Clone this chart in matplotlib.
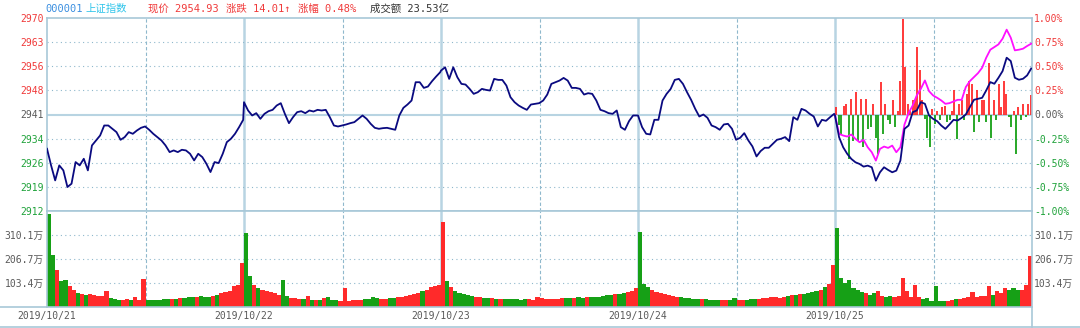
import matplotlib
matplotlib.use('Agg')
import matplotlib.pyplot as plt
from matplotlib.lines import Line2D
import numpy as np

plt.rcParams['font.family'] = ['DejaVu Sans Mono', 'Noto Sans CJK SC']

# ---- data ----
code = '000001'
name = '上证指数'
prev_close = 2940.92
last_price = 2954.93
change = 14.01
change_pct = 0.48
turnover = '23.53亿'
dates = ['2019/10/21', '2019/10/22', '2019/10/23', '2019/10/24', '2019/10/25']

# index, one point every 5 minutes (49 per day)
price_d1 = [2930.48, 2925.41, 2920.84, 2925.41, 2923.89, 2918.82, 2919.83, 2926.42, 2925.41, 2927.43,
            2923.89, 2931.49, 2933.01, 2934.53, 2937.57, 2937.57, 2936.56, 2935.55, 2933.21, 2934.02,
            2935.55, 2935.04, 2936.05, 2936.86, 2937.27, 2936.26, 2935.04, 2934.02, 2933.01, 2931.49,
            2929.46, 2929.97, 2929.46, 2930.17, 2929.97, 2928.95, 2926.93, 2928.95, 2927.94, 2925.91,
            2923.38, 2926.42, 2926.11, 2928.95, 2932.50, 2933.52, 2935.04, 2937.07, 2939.30]
price_d2 = [2944.67, 2942.14, 2940.62, 2941.33, 2939.60, 2941.12, 2941.93, 2942.34, 2943.66, 2944.37,
            2941.12, 2938.28, 2940.11, 2941.63, 2941.93, 2941.33, 2942.14, 2941.83, 2942.34, 2942.14,
            2942.34, 2940.11, 2937.57, 2937.27, 2937.57, 2937.88, 2938.28, 2938.59, 2939.60, 2940.62,
            2939.60, 2938.08, 2936.86, 2936.56, 2936.76, 2936.86, 2936.56, 2936.26, 2940.62, 2942.95,
            2943.96, 2945.18, 2950.76, 2950.76, 2949.03, 2949.44, 2951.06, 2952.48, 2953.80]
price_d3 = [2954.30, 2955.32, 2951.77, 2955.32, 2952.28, 2950.25, 2950.05, 2948.73, 2947.21, 2947.71,
            2948.73, 2948.42, 2948.22, 2951.77, 2951.47, 2951.47, 2949.74, 2946.19, 2944.67, 2943.66,
            2942.95, 2942.34, 2943.96, 2944.16, 2944.37, 2945.18, 2947.00, 2950.25, 2950.76, 2951.26,
            2952.07, 2951.26, 2949.03, 2949.03, 2948.73, 2947.00, 2947.41, 2947.21, 2945.18, 2942.34,
            2941.93, 2941.33, 2941.12, 2942.14, 2937.07, 2936.26, 2938.89, 2940.62, 2940.62]
price_d4 = [2940.62, 2937.07, 2935.04, 2934.84, 2939.30, 2939.30, 2945.18, 2947.21, 2948.73, 2951.47,
            2951.77, 2950.25, 2947.71, 2945.38, 2942.64, 2940.31, 2940.92, 2939.91, 2937.57, 2937.07,
            2936.26, 2937.88, 2938.08, 2936.56, 2933.21, 2933.82, 2935.24, 2933.01, 2931.19, 2928.14,
            2929.77, 2930.78, 2930.78, 2932.00, 2933.21, 2933.52, 2934.03, 2932.81, 2940.11, 2939.30,
            2942.64, 2942.14, 2941.12, 2940.31, 2937.27, 2939.30, 2938.99, 2940.11, 2941.12]
price_d5 = [2940.61, 2934.00, 2930.94, 2928.91, 2927.38, 2926.36, 2925.85, 2925.04, 2925.34, 2924.84,
            2920.76, 2923.31, 2924.84, 2924.02, 2923.31, 2923.82, 2926.87, 2936.54, 2937.56, 2941.63,
            2942.14, 2944.69, 2944.18, 2940.61, 2939.60, 2938.88, 2937.56, 2936.54, 2937.87, 2939.29,
            2939.09, 2939.90, 2940.92, 2943.16, 2945.40, 2945.70, 2946.01, 2948.25, 2950.79, 2950.29,
            2952.12, 2954.15, 2958.23, 2957.21, 2952.12, 2951.51, 2951.81, 2952.83, 2954.93]
# magenta line on the last day
lead_d5 = [2940.61, 2935.02, 2934.51, 2934.20, 2934.81, 2933.49, 2932.47, 2933.18, 2930.94, 2929.42,
           2926.87, 2930.43, 2931.15, 2930.74, 2931.45, 2929.42, 2930.94, 2937.87, 2941.33, 2943.67,
           2946.72, 2948.76, 2951.30, 2948.05, 2946.72, 2946.01, 2945.20, 2944.18, 2944.38, 2944.89,
           2945.40, 2945.40, 2949.27, 2951.10, 2952.32, 2953.54, 2955.17, 2958.23, 2960.67, 2961.48,
           2962.30, 2964.03, 2966.78, 2964.34, 2960.47, 2960.67, 2960.97, 2961.79, 2962.50]
# red/green strength bars on the last day, every 3 minutes, in %
power_d5 = [0.08, -0.11, -0.20, 0.09, 0.11, -0.46, 0.16, -0.27, 0.23, -0.27,
            0.16, -0.34, 0.16, -0.15, -0.13, 0.11, -0.24, -0.41, 0.34, -0.20,
            0.11, -0.06, -0.10, 0.15, -0.13, 0.04, 0.35, 0.99, 0.49, 0.11,
            0.04, 0.15, 0.15, 0.70, 0.46, 0.15, -0.05, -0.24, -0.34, 0.06,
            -0.10, 0.04, -0.06, 0.08, 0.09, -0.08, -0.06, 0.04, 0.25, -0.25,
            0.11, 0.15, -0.06, 0.21, 0.35, 0.32, -0.18, 0.25, -0.08, 0.15,
            0.15, -0.08, 0.53, -0.24, 0.15, -0.06, 0.32, 0.08, 0.35, 0.21,
            -0.03, -0.13, 0.04, -0.41, 0.08, -0.06, 0.11, -0.03, 0.11, 0.20]

# volume (万), 5-minute bins, 48 per day
vol_d1 = [400, 225, 161, 111, 118, 89, 75, 60, 57, 53, 57, 53, 46, 49, 67, 39, 34, 32, 32, 34, 32, 43, 32, 121,
          32, 29, 32, 32, 34, 34, 34, 34, 37, 39, 43, 43, 43, 46, 43, 43, 46, 53, 60, 63, 67, 89, 96, 190]
vol_d2 = [319, 132, 96, 82, 75, 67, 63, 60, 53, 118, 46, 39, 39, 34, 34, 46, 32, 32, 29, 39, 43, 32, 32, 24,
          82, 24, 32, 32, 32, 34, 34, 43, 39, 34, 34, 37, 39, 43, 43, 46, 53, 57, 60, 67, 75, 85, 90, 95]
vol_d3 = [367, 110, 85, 70, 60, 55, 50, 47, 45, 43, 40, 40, 38, 36, 36, 35, 34, 33, 33, 32, 35, 33, 32, 45,
          40, 33, 34, 35, 36, 37, 38, 38, 40, 42, 40, 42, 44, 45, 45, 48, 50, 50, 55, 55, 60, 65, 70, 80]
vol_d4 = [324, 100, 85, 75, 65, 60, 55, 50, 48, 45, 42, 40, 38, 36, 35, 35, 33, 32, 30, 30, 32, 30, 28, 40,
          30, 30, 32, 33, 35, 36, 38, 40, 45, 42, 40, 45, 48, 50, 52, 55, 58, 60, 65, 70, 75, 85, 100, 182]
vol_d5 = [340, 125, 103, 115, 82, 72, 63, 60, 53, 60, 67, 46, 42, 46, 43, 49, 125, 67, 43, 96, 43, 34, 37, 24,
          89, 24, 24, 27, 32, 34, 34, 39, 43, 63, 43, 46, 49, 89, 53, 67, 60, 82, 75, 82, 75, 75, 96, 218]
vol_ticks = [103.4, 206.7, 310.1]

prices = [price_d1, price_d2, price_d3, price_d4, price_d5]
vols = [vol_d1, vol_d2, vol_d3, vol_d4, vol_d5]

# ---- style ----
W, H = 1080, 328
RED, GREEN, GRAY = '#f03a3a', '#1fa23a', '#5a5a5a'
BAR_R, BAR_G = '#ff2a2a', '#16a016'
FRAME = '#a8c8d8'
GRID = '#8fb8cc'


def box(x0, y0, x1, y1):
    return [x0 / W, 1 - y1 / H, (x1 - x0) / W, (y1 - y0) / H]


fig = plt.figure(figsize=(W / 100, H / 100), dpi=100)
ax = fig.add_axes(box(47, 18, 1032, 211))
axv = fig.add_axes(box(47, 211, 1032, 307))

ndays = len(prices)
for a in (ax, axv):
    a.set_xlim(0, 240 * ndays)
    a.set_xticks([])
    for s in a.spines.values():
        s.set_color(FRAME)
        s.set_linewidth(1.2)
    for d in range(1, ndays):
        a.axvline(240 * d, color='#b8d4e2', lw=1.8, zorder=1)
    for d in range(ndays):
        a.axvline(240 * d + 120, color=GRID, lw=0.8, ls=(0, (3, 2)), zorder=1)

# ---- price panel ----
lo, hi = prev_close * 0.99, prev_close * 1.01
ax.set_ylim(lo, hi)
steps = np.arange(-4, 5)
pticks = prev_close * (1 + steps * 0.0025)
ax.set_yticks(pticks)
ax.set_yticklabels(['%d' % round(t) for t in pticks])
pcols = [GREEN if s < 0 else (RED if s > 0 else GRAY) for s in steps]
for lab, c in zip(ax.get_yticklabels(), pcols):
    lab.set_color(c)
ax.tick_params(axis='y', length=0, pad=2.5, labelsize=7)
for s, t in zip(steps[1:-1], pticks[1:-1]):
    if s == 0:
        ax.axhline(t, color='#b8d4e2', lw=1.5, zorder=1)
    else:
        ax.axhline(t, color=GRID, lw=0.8, ls=(0, (1, 3)), zorder=1)

axr = ax.twinx()
axr.set_ylim(lo, hi)
axr.set_yticks(pticks)
axr.set_yticklabels(['%.2f%%' % (s * 0.25) for s in steps])
for lab, c in zip(axr.get_yticklabels(), pcols):
    lab.set_color(c)
axr.tick_params(axis='y', length=0, pad=1.5, labelsize=7)
for s in axr.spines.values():
    s.set_visible(False)

# strength bars (last day)
px = 240 * (ndays - 1) + 3 * np.arange(len(power_d5)) + 1.5
pv = np.array(power_d5)
ax.vlines(px, prev_close, prev_close * (1 + pv / 100),
          colors=[BAR_R if v > 0 else BAR_G for v in pv], lw=1.3, zorder=2)

# index line
xs, ys = [], []
for d, p in enumerate(prices):
    xs.extend(240 * d + np.linspace(0, 239, len(p)))
    ys.extend(p)
ax.plot(xs, ys, color='#0a0a80', lw=1.3, zorder=4)
ax.plot(240 * (ndays - 1) + np.linspace(0, 239, len(lead_d5)), lead_d5,
        color='#ff10ff', lw=1.3, zorder=3)

# ---- volume panel ----
vtop = vol_ticks[-1] * 4 / 3
axv.set_ylim(0, vtop)
axv.set_yticks(vol_ticks)
axv.set_yticklabels(['%.1f万' % v for v in vol_ticks])
axv.tick_params(axis='y', length=0, pad=2.5, labelsize=7, labelcolor=GRAY)
for v in vol_ticks:
    axv.axhline(v, color=GRID, lw=0.8, ls=(0, (1, 3)), zorder=1)
axvr = axv.twinx()
axvr.set_ylim(0, vtop)
axvr.set_yticks(vol_ticks)
axvr.set_yticklabels(['%.1f万' % v for v in vol_ticks])
axvr.tick_params(axis='y', length=0, pad=1.5, labelsize=7, labelcolor=GRAY)
for s in axvr.spines.values():
    s.set_visible(False)

for d, (p, v) in enumerate(zip(prices, vols)):
    bx = 240 * d + 5 * np.arange(len(v)) + 2.5
    cols = [BAR_R if p[k + 1] >= p[k] else BAR_G for k in range(len(v))]
    axv.bar(bx, v, width=5, color=cols, linewidth=0, zorder=2)

for d, lab in enumerate(dates):
    axv.text(240 * d, -0.095, lab, transform=axv.get_xaxis_transform(),
             ha='center', va='center', fontsize=7, color=GRAY)

# frame pieces outside the axes
yb = 1 - 307 / H
fig.add_artist(Line2D([0, 47 / W], [yb, yb], color=FRAME, lw=1.2))
fig.add_artist(Line2D([0, 1], [1 - 326.5 / H] * 2, color=FRAME, lw=1.2))
fig.add_artist(Line2D([1032 / W] * 2, [1 - 326.5 / H, yb], color=FRAME, lw=1.2))

# ---- header ----
hy = 1 - 8.5 / H
heads = [(45, code, '#3b8fe0'), (85, name, '#2ec4ea'),
         (148, '现价 %.2f' % last_price, RED),
         (226, '涨跌 %.2f↑' % change, RED),
         (298, '涨幅 %.2f%%' % change_pct, RED),
         (370, '成交额 ' + turnover, '#333333')]
for x, t, c in heads:
    fig.text(x / W, hy, t, color=c, fontsize=7.5, ha='left', va='center')

fig.savefig('out.png', dpi=100)
